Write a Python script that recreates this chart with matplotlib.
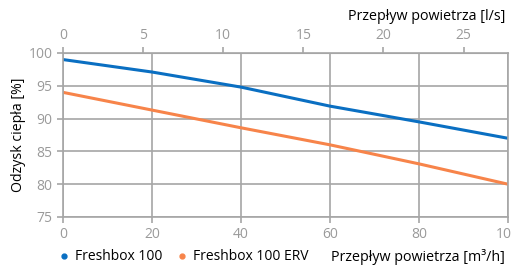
import matplotlib.pyplot as plt
from matplotlib.lines import Line2D

flow_m3h = [0, 20, 40, 60, 80, 100]
freshbox_100 = [99.0, 97.1, 94.8, 91.9, 89.5, 87.0]
freshbox_erv = [94.0, 91.3, 88.6, 86.0, 83.1, 80.0]
series_names = ['Freshbox 100', 'Freshbox 100 ERV']
colors = ['#0a6fc2', '#f7844a']

grey = '#a6a6a6'
text_grey = '#9a9a9a'

plt.rcParams['font.family'] = ['Open Sans', 'DejaVu Sans']

fig = plt.figure(figsize=(5.11, 2.66), dpi=100)
ax = fig.add_axes([63 / 511, 49 / 266, 445 / 511, 164 / 266])

ax.plot(flow_m3h, freshbox_100, color=colors[0], lw=2.2, solid_capstyle='butt')
ax.plot(flow_m3h, freshbox_erv, color=colors[1], lw=2.2, solid_capstyle='butt')

ax.set_xlim(0, 100)
ax.set_ylim(75, 100)
ax.set_xticks([0, 20, 40, 60, 80, 100])
ax.set_yticks([75, 80, 85, 90, 95, 100])
ax.grid(True, color=grey, lw=1.2)
ax.set_axisbelow(True)
for s in ax.spines.values():
    s.set_color(grey)
    s.set_linewidth(1.2)
ax.tick_params(colors=grey, labelcolor=text_grey, labelsize=10, length=4, width=1.2)
ax.set_ylabel('Odzysk ciepła [%]', fontsize=10.2, labelpad=2)

top = ax.secondary_xaxis('top', functions=(lambda x: x / 3.6, lambda x: x * 3.6))
top.set_xticks([0, 5, 10, 15, 20, 25])
top.tick_params(colors=grey, labelcolor=text_grey, labelsize=10, length=4, width=1.2)
top.spines['top'].set_color(grey)
fig.text(505 / 511, 1 - 16 / 266, 'Przepływ powietrza [l/s]', ha='right', va='center', fontsize=10.3)
fig.text(505 / 511, 1 - 257 / 266, 'Przepływ powietrza [m³/h]', ha='right', va='center', fontsize=10.3)

handles = [Line2D([], [], ls='none', marker='o', ms=3.5, color=c) for c in colors]
fig.legend(handles, series_names, loc='center left', bbox_to_anchor=(60 / 511, 1 - 257 / 266),
           ncol=2, frameon=False, fontsize=10, handlelength=0.6, handletextpad=0.5,
           columnspacing=1.1, borderpad=0, borderaxespad=0)

fig.savefig('out.png', dpi=100)
